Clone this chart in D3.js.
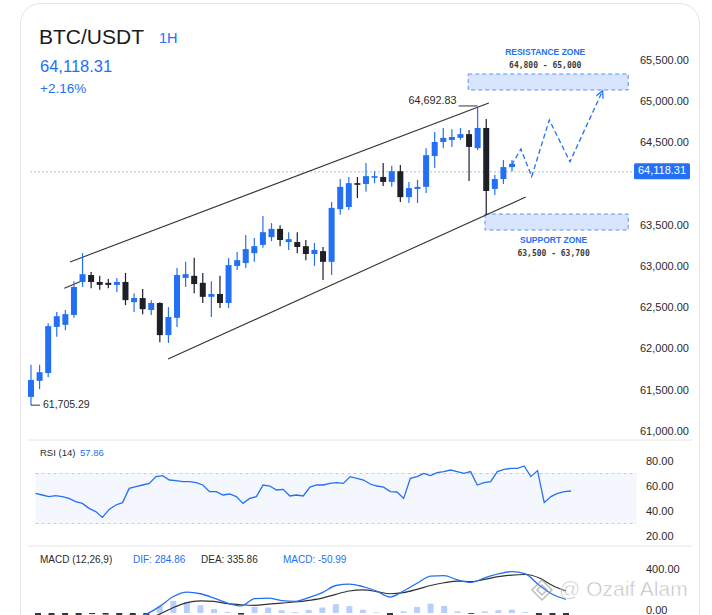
<!DOCTYPE html>
<html>
<head>
<meta charset="utf-8">
<script src="https://cdn.jsdelivr.net/npm/d3@7"></script>
<style>
  html, body { margin: 0; padding: 0; background: #fff; }
  svg { display: block; font-family: "Liberation Sans", Arial, sans-serif; }
</style>
</head>
<body>
<svg id="chart" width="712" height="615"></svg>
<script>
// ---- data ----
const candleOpen  = [61410, 61605, 61700, 62260, 62285, 62405, 62805, 62890, 62805, 62795, 62770, 62805, 62560, 62610, 62465, 62550, 62160, 62370, 62855, 62880, 62795, 62625, 62660, 62550, 63000, 63035, 63155, 63255, 63350, 63450, 63290, 63290, 63240, 63145, 63180, 63050, 63690, 63715, 64005, 63995, 64070, 64080, 64020, 64150, 63835, 63935, 63960, 64335, 64505, 64530, 64555, 64600, 64430, 64675, 63935, 64055, 64200];
const candleHigh  = [61800, 61800, 62305, 62440, 62465, 62815, 63155, 62925, 62880, 62840, 62855, 62915, 62670, 62720, 62585, 62560, 62500, 62975, 63050, 63100, 62915, 62815, 62880, 63095, 63170, 63375, 63340, 63605, 63520, 63495, 63410, 63410, 63315, 63280, 63230, 63775, 64055, 64080, 64080, 64250, 64150, 64250, 64215, 64225, 64020, 64045, 64430, 64625, 64675, 64660, 64675, 64650, 64930, 64785, 64105, 64285, 64285];
const candleLow   = [61310, 61505, 61650, 62140, 62220, 62370, 62745, 62730, 62710, 62730, 62685, 62525, 62440, 62415, 62405, 62075, 62065, 62260, 62745, 62670, 62550, 62380, 62490, 62490, 62950, 62975, 63050, 63220, 63300, 63240, 63195, 63155, 63070, 63000, 62830, 62890, 63620, 63680, 63825, 63900, 64005, 63970, 63960, 63775, 63765, 63765, 63885, 64190, 64430, 64445, 64530, 64030, 64405, 63620, 63860, 63995, 64150];
const candleClose = [61615, 61710, 62270, 62390, 62415, 62745, 62900, 62805, 62770, 62770, 62805, 62585, 62610, 62475, 62550, 62160, 62380, 62890, 62900, 62780, 62625, 62660, 62550, 63010, 63070, 63205, 63240, 63410, 63450, 63315, 63325, 63230, 63145, 63195, 63050, 63705, 63960, 64005, 63985, 64090, 64090, 64020, 64150, 63835, 63945, 63960, 64345, 64505, 64555, 64565, 64600, 64445, 64675, 63910, 64055, 64200, 64240];

const priceTicks = [65500, 65000, 64500, 63500, 63000, 62500, 62000, 61500, 61000];
const lastPrice = 64118.31;

// channel lines as [candle index, price]
const upperChannel = [[4.54, 63048], [53.3, 64978]];
const upperStub    = [[3.88, 62729], [5.7, 62809]];
const lowerChannel = [[15.95, 61870], [57.6, 63837]];
const forecastPath = [[55.96, 64225], [57.04, 64419], [58.29, 64084], [60.34, 64772], [62.75, 64266], [66.56, 65128]];

const zoneNames  = ["RESISTANCE ZONE", "SUPPORT ZONE"];
const zoneRanges = ["64,800 - 65,000", "63,500 - 63,700"];
const zoneStart  = [50.9, 52.85];
const zoneEnd    = [69.53, 69.53];
const zoneTop    = [65330, 63630];
const zoneBottom = [65136, 63436];

const rsiValues = [54.1, 52.8, 51.5, 52.3, 51.5, 50.1, 47.5, 46.1, 42.1, 39.5, 34.9, 41.3, 44.8, 46.7, 58.1, 59.5, 60.8, 62.1, 67.5, 68.3, 64.8, 64.3, 63.5, 63.5, 62.7, 60.8, 55.5, 55.5, 52.8, 53.6, 51.5, 46.1, 50.1, 51.5, 60.8, 60.0, 56.8, 57.3, 52.0, 52.8, 52.0, 59.1, 60.8, 60.8, 62.1, 62.7, 62.1, 67.5, 66.1, 64.8, 61.6, 60.0, 59.1, 55.5, 55.2, 50.1, 66.1, 67.5, 70.1, 68.3, 70.7, 71.5, 72.8, 71.5, 70.1, 71.5, 60.8, 62.7, 63.5, 71.5, 73.3, 74.1, 74.1, 76.0, 67.5, 72.3, 46.7, 51.5, 54.1, 55.5, 56.0];
const rsiTicks = [80, 60, 40, 20];
const rsiBands = [70, 30];

const difValues  = [-250, -230, -210, -180, -150, -120, -90, -50, -10, 60, 150, 190, 175, 135, 90, 65, 130, 135, 112, 105, 140, 185, 250, 262, 240, 200, 145, 200, 270, 335, 340, 300, 278, 320, 355, 376, 355, 255, 170, 124];
const deaValues  = [-180, -175, -170, -160, -150, -135, -120, -100, -60, -10, 50, 95, 110, 105, 85, 75, 70, 80, 90, 100, 115, 135, 170, 200, 210, 195, 175, 185, 215, 250, 275, 290, 285, 305, 330, 345, 350, 320, 250, 200];
const histValues = [-60, -55, -40, -25, -10, -15, -20, -30, -20, 60, 110, 100, 70, 35, 10, -15, 55, 50, 25, 8, 28, 50, 80, 62, 30, 5, -30, 15, 55, 85, 65, 15, -8, 15, 25, 30, 8, -60, -80, -75];
const macdTicks = [400, 0];

// ---- drawing ----
const svg = d3.select("#chart");
const blue = "#2470f5", dark = "#1d2027", txt = "#2a2a2a";
const fmt = d3.format(",.2f");

// card
svg.append("rect").attr("x", 20.5).attr("y", 3.5).attr("width", 679).attr("height", 700)
  .attr("rx", 20).attr("fill", "#fff").attr("stroke", "#e4e4e4");

// header
svg.append("text").attr("x", 39).attr("y", 43.5).attr("font-size", 21).attr("fill", "#1a1a1a").text("BTC/USDT");
svg.append("text").attr("x", 159).attr("y", 42.5).attr("font-size", 14.5).attr("fill", blue).text("1H");
svg.append("text").attr("x", 40).attr("y", 71.5).attr("font-size", 16.5).attr("fill", blue).text(fmt(lastPrice));
svg.append("text").attr("x", 40).attr("y", 93).attr("font-size", 13.5).attr("fill", blue).text("+2.16%");

// price panel scales
const x = d3.scaleLinear().domain([0, candleOpen.length - 1]).range([31, 512]);
const y = d3.scaleLinear().domain([61000, 65500]).range([430.7, 60]);

// last price dotted line
svg.append("line").attr("x1", 30).attr("x2", 634).attr("y1", y(lastPrice) - 2).attr("y2", y(lastPrice) - 2)
  .attr("stroke", "#a8c1f3").attr("stroke-dasharray", "2,2");

// zones
const zones = zoneNames.map((n, i) => ({ n, r: zoneRanges[i], s: zoneStart[i], e: zoneEnd[i], t: zoneTop[i], b: zoneBottom[i] }));
svg.append("g").selectAll("rect").data(zones).join("rect")
  .attr("x", d => x(d.s)).attr("width", d => x(d.e) - x(d.s))
  .attr("y", d => y(d.t)).attr("height", d => y(d.b) - y(d.t))
  .attr("fill", "#d8e5fd").attr("stroke", "#5b93f7").attr("stroke-dasharray", "4,3");
zones.forEach((d, i) => {
  const cx = (x(d.s) + x(d.e)) / 2 - 3;
  const above = i === 0;
  const y1 = above ? y(d.t) - 21 : y(d.b) + 11;
  svg.append("text").attr("x", cx).attr("y", y1).attr("text-anchor", "middle").attr("dominant-baseline", "middle")
    .attr("font-size", 8.5).attr("font-weight", "bold").attr("fill", blue).text(d.n);
  svg.append("text").attr("x", cx).attr("y", y1 + 12).attr("text-anchor", "middle").attr("dominant-baseline", "middle")
    .attr("font-family", "'DejaVu Sans Mono', monospace").attr("font-size", 8).attr("font-weight", "bold")
    .attr("fill", "#3a3a3a").text(d.r);
});

// channel lines
const pl = d3.line().x(d => x(d[0])).y(d => y(d[1]));
[upperChannel, upperStub, lowerChannel].forEach(seg => {
  svg.append("path").attr("d", pl(seg)).attr("fill", "none").attr("stroke", "#333").attr("stroke-width", 1.1);
});

// candles
const candles = candleOpen.map((o, i) => ({ i, o, h: candleHigh[i], l: candleLow[i], c: candleClose[i] }));
const cg = svg.append("g");
cg.selectAll("line").data(candles).join("line")
  .attr("x1", d => x(d.i)).attr("x2", d => x(d.i))
  .attr("y1", d => y(d.h)).attr("y2", d => y(d.l))
  .attr("stroke", d => d.c >= d.o ? blue : dark).attr("stroke-width", 1.2);
cg.selectAll("rect").data(candles).join("rect")
  .attr("x", d => x(d.i) - 3).attr("width", 6)
  .attr("y", d => y(Math.max(d.o, d.c)))
  .attr("height", d => Math.max(1.5, y(Math.min(d.o, d.c)) - y(Math.max(d.o, d.c))))
  .attr("fill", d => d.c >= d.o ? blue : dark);

// high / low annotations
const hi = candles[52], lo = candles[0];
svg.append("line").attr("x1", x(hi.i) - 19).attr("x2", x(hi.i)).attr("y1", y(hi.h) - 1).attr("y2", y(hi.h) - 1).attr("stroke", "#333");
svg.append("text").attr("x", x(hi.i) - 21).attr("y", y(hi.h) - 6).attr("text-anchor", "end").attr("dominant-baseline", "middle")
  .attr("font-size", 10.8).attr("fill", txt).text("64,692.83");
svg.append("line").attr("x1", x(lo.i)).attr("x2", x(lo.i) + 9).attr("y1", y(lo.l)).attr("y2", y(lo.l)).attr("stroke", "#333");
svg.append("text").attr("x", x(lo.i) + 12).attr("y", y(lo.l)).attr("dominant-baseline", "middle")
  .attr("font-size", 10.5).attr("fill", txt).text("61,705.29");

// forecast arrow
svg.append("defs").append("marker").attr("id", "arrow").attr("viewBox", "0 0 10 10")
  .attr("refX", 9).attr("refY", 5).attr("markerWidth", 9).attr("markerHeight", 9)
  .attr("markerUnits", "userSpaceOnUse").attr("orient", "auto")
  .append("path").attr("d", "M1,1 L9,5 L1,9").attr("fill", "none").attr("stroke", blue).attr("stroke-width", 1.4);
svg.append("path").attr("d", pl(forecastPath)).attr("fill", "none").attr("stroke", blue)
  .attr("stroke-width", 1.3).attr("stroke-dasharray", "5,3").attr("marker-end", "url(#arrow)");

// price axis
const ay = svg.append("g").attr("transform", "translate(640,0)")
  .call(d3.axisRight(y).tickValues(priceTicks).tickSize(0).tickPadding(0).tickFormat(fmt));
ay.select(".domain").remove();
ay.selectAll("text").attr("font-size", 11).attr("fill", txt).attr("font-family", "'Liberation Sans', Arial, sans-serif");

// last price tag
svg.append("rect").attr("x", 634).attr("y", y(lastPrice) - 10.5).attr("width", 56).attr("height", 16).attr("rx", 1.5).attr("fill", blue);
svg.append("text").attr("x", 662).attr("y", y(lastPrice) - 2.5).attr("text-anchor", "middle").attr("dominant-baseline", "middle")
  .attr("font-size", 11).attr("fill", "#fff").text(fmt(lastPrice));

// separators
[440, 546].forEach(v => svg.append("line").attr("x1", 28).attr("x2", 692).attr("y1", v).attr("y2", v).attr("stroke", "#e6e6e6"));

// ---- RSI panel ----
const xr = d3.scaleLinear().domain([0, rsiValues.length - 1]).range([35.5, 571]);
const yr = d3.scaleLinear().domain([20, 80]).range([536, 461]);
svg.append("rect").attr("x", 35.5).attr("width", 601).attr("y", yr(rsiBands[0])).attr("height", yr(rsiBands[1]) - yr(rsiBands[0]))
  .attr("fill", "#f4f7fe");
rsiBands.forEach(v => svg.append("line").attr("x1", 35.5).attr("x2", 636).attr("y1", yr(v)).attr("y2", yr(v))
  .attr("stroke", "#c9c9c9").attr("stroke-dasharray", "3,3"));
svg.append("path").attr("d", d3.line().x((d, i) => xr(i)).y(d => yr(d))(rsiValues))
  .attr("fill", "none").attr("stroke", blue).attr("stroke-width", 1.3);
const ar = svg.append("g").attr("transform", "translate(646,0)")
  .call(d3.axisRight(yr).tickValues(rsiTicks).tickSize(0).tickPadding(0).tickFormat(d3.format(".2f")));
ar.select(".domain").remove();
ar.selectAll("text").attr("font-size", 11).attr("fill", txt).attr("font-family", "'Liberation Sans', Arial, sans-serif");
svg.append("text").attr("x", 40).attr("y", 453).attr("dominant-baseline", "middle").attr("font-size", 9.5).attr("fill", txt).text("RSI (14)");
svg.append("text").attr("x", 80).attr("y", 453).attr("dominant-baseline", "middle").attr("font-size", 9.5).attr("fill", blue).text("57.86");

// ---- MACD panel ----
const xm = d3.scaleLinear().domain([0, difValues.length - 1]).range([38, 566]);
const ym = d3.scaleLinear().domain([0, 400]).range([613, 569]);
svg.append("g").selectAll("rect").data(histValues).join("rect")
  .attr("x", (d, i) => xm(i) - 3).attr("width", 6)
  .attr("y", d => d >= 0 ? ym(d) : ym(0)).attr("height", d => Math.abs(ym(d) - ym(0)))
  .attr("fill", d => d >= 0 ? "#9fbff8" : dark).attr("opacity", d => d >= 0 ? 0.75 : 0.9);
const ml = d3.line().x((d, i) => xm(i)).y(d => ym(d)).curve(d3.curveMonotoneX);
svg.append("path").attr("d", ml(deaValues)).attr("fill", "none").attr("stroke", "#333").attr("stroke-width", 1.2);
svg.append("path").attr("d", ml(difValues)).attr("fill", "none").attr("stroke", blue).attr("stroke-width", 1.3);
const am = svg.append("g").attr("transform", "translate(646,0)")
  .call(d3.axisRight(ym).tickValues(macdTicks).tickSize(0).tickPadding(0).tickFormat(d3.format(".2f")));
am.select(".domain").remove();
am.selectAll("text").attr("font-size", 11).attr("fill", txt).attr("font-family", "'Liberation Sans', Arial, sans-serif");
// keep the 0.00 label inside the frame
am.selectAll(".tick").filter(d => d === 0).select("text").attr("dy", "0.05em");
const macdLegend = [["MACD (12,26,9)", 40, txt], ["DIF: 284.86", 133, blue], ["DEA: 335.86", 201, txt], ["MACD: -50.99", 283, blue]];
macdLegend.forEach(([t, lx, c]) => svg.append("text").attr("x", lx).attr("y", 560).attr("dominant-baseline", "middle")
  .attr("font-size", 10).attr("fill", c).text(t));

// watermark
const wm = svg.append("g").attr("opacity", 0.55);
wm.append("path").attr("d", "M542,580 L552,590 L542,600 L532,590 Z M542,585 L547,590 L542,595 L537,590 Z")
  .attr("fill", "none").attr("stroke", "#888").attr("stroke-width", 1.5);
wm.append("text").attr("x", 559).attr("y", 596).attr("font-size", 21).attr("fill", "#888")
  .attr("stroke", "#fff").attr("stroke-width", 0.6).text("@ Ozaif Alam");
</script>
</body>
</html>
